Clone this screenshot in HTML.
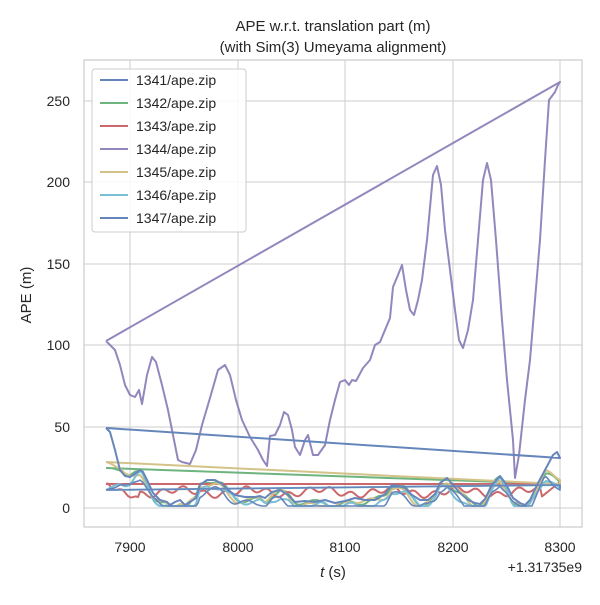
<!DOCTYPE html>
<html><head><meta charset="utf-8"><style>
body{margin:0;background:#fff}
svg{font-family:"Liberation Sans","DejaVu Sans",sans-serif}
</style></head><body>
<svg id="s" width="600" height="600" viewBox="0 0 600 600" xmlns="http://www.w3.org/2000/svg">
<rect width="600" height="600" fill="#fff"/>
<g stroke="#cccccc" stroke-width="1">
<line x1="130" y1="60" x2="130" y2="527"/><line x1="238" y1="60" x2="238" y2="527"/>
<line x1="345" y1="60" x2="345" y2="527"/><line x1="453" y1="60" x2="453" y2="527"/>
<line x1="560" y1="60" x2="560" y2="527"/>
<line x1="84" y1="508" x2="582" y2="508"/><line x1="84" y1="427" x2="582" y2="427"/>
<line x1="84" y1="345" x2="582" y2="345"/><line x1="84" y1="264" x2="582" y2="264"/>
<line x1="84" y1="182" x2="582" y2="182"/><line x1="84" y1="101" x2="582" y2="101"/>
</g>
<rect x="84" y="60" width="498" height="467" fill="none" stroke="#cccccc" stroke-width="1.2"/>
<g id="lines" fill="none" stroke-width="2" stroke-linejoin="round" opacity="0.85"></g>
<g font-size="14" fill="#262626">
<text x="70" y="513" text-anchor="end">0</text>
<text x="70" y="432" text-anchor="end">50</text>
<text x="70" y="350" text-anchor="end">100</text>
<text x="70" y="269" text-anchor="end">150</text>
<text x="70" y="187" text-anchor="end">200</text>
<text x="70" y="106" text-anchor="end">250</text>
<text x="130" y="552" text-anchor="middle">7900</text>
<text x="238" y="552" text-anchor="middle">8000</text>
<text x="345" y="552" text-anchor="middle">8100</text>
<text x="453" y="552" text-anchor="middle">8200</text>
<text x="560" y="552" text-anchor="middle">8300</text>
<text x="582" y="572" text-anchor="end">+1.31735e9</text>
<text x="333" y="577" text-anchor="middle" font-size="15"><tspan font-style="italic">t</tspan> (s)</text>
<text transform="translate(31,295) rotate(-90)" text-anchor="middle" font-size="15">APE (m)</text>
<text x="333" y="31" text-anchor="middle" font-size="15">APE w.r.t. translation part (m)</text>
<text x="333" y="52" text-anchor="middle" font-size="15">(with Sim(3) Umeyama alignment)</text>
</g>
<rect x="92" y="69" width="154" height="163" rx="3" fill="#fff" fill-opacity="0.85" stroke="#cccccc"/>
<g id="leg" font-size="14" fill="#262626"></g>
</svg>
<script>
var C=["#4c72b0","#55a868","#c44e52","#8172b2","#ccb974","#64b5cd","#4c72b0"];
var names=["1341","1342","1343","1344","1345","1346","1347"];
var leg=document.getElementById("leg");
for(var i=0;i<7;i++){var y=80+i*23;
leg.innerHTML+='<line x1="100" y1="'+y+'" x2="128" y2="'+y+'" stroke="'+C[i]+'" stroke-width="2" opacity="0.85"/><text x="136" y="'+(y+5)+'">'+names[i]+'/ape.zip</text>';}
var P=[[106,341],[110,345],[115,350],[120,365],[125,385],[130,395],[135,397],[139,390],[142,404],[147,375],[152,357],[156,362],[162,385],[168,410],[173,435],[178,460],[182,462],[190,464],[196,450],[202,425],[210,398],[218,370],[225,365],[230,375],[236,400],[242,420],[250,437],[258,450],[263,460],[267,466],[270,436],[275,435],[280,425],[284,412],[288,415],[292,430],[295,447],[300,455],[305,440],[308,435],[313,455],[318,455],[325,445],[330,420],[335,400],[340,382],[345,380],[349,385],[352,380],[356,381],[363,368],[370,360],[375,345],[380,342],[385,330],[390,318],[393,287],[398,275],[402,265],[406,290],[410,310],[414,315],[418,300],[422,280],[427,240],[433,175],[437,166],[441,185],[445,230],[450,270],[455,310],[459,340],[463,348],[468,330],[473,300],[478,240],[483,180],[487,163],[491,180],[496,240],[502,320],[507,380],[513,440],[515,478],[519,455],[525,400],[530,360],[535,300],[540,240],[545,160],[549,100],[555,92],[558,85],[560,82]];
var B=[[106,428],[110,432],[115,450],[120,470],[125,476],[130,477],[136,473],[140,470],[143,472],[148,482],[153,493],[160,500],[167,502],[170,505],[175,502],[180,500],[185,505],[190,502],[196,498],[200,485],[207,480],[215,480],[222,484],[228,490],[235,495],[245,497],[255,497],[260,496],[265,498],[272,492],[280,490],[288,495],[295,502],[305,501],[315,502],[325,500],[335,503],[345,501],[355,498],[365,500],[375,500],[385,494],[392,485],[398,486],[405,488],[412,495],[420,500],[428,500],[435,494],[440,483],[447,478],[453,485],[460,493],[468,500],[475,503],[480,504],[485,499],[492,485],[500,476],[506,484],[513,498],[520,503],[525,505],[530,500],[537,485],[545,470],[553,455],[557,452],[560,458]];
function interp(arr,x){for(var k=1;k<arr.length;k++)if(arr[k][0]>=x){var a=arr[k-1],b=arr[k];var t=(x-a[0])/((b[0]-a[0])||1);return a[1]+t*(b[1]-a[1]);}return arr[arr.length-1][1];}
function mk(start,end,off,ph,amp,endy){var pts=[[106,start]];for(var x=108;x<=560;x+=2){var base=Math.max(interp(B,x),470);var y=base+off+amp*Math.sin(x*0.21+ph)+amp*0.6*Math.sin(x*0.07+ph*2);if(x<135)y=start+(x-106)/29*(y-start);if(x>545)y=y+(x-545)/15*(endy-y);pts.push([x,Math.min(y,506)]);}pts.push([560,end]);pts.push([106,start]);return pts;}
function pl(pts,c,w){var s=pts.map(function(p){return p[0].toFixed(1)+","+p[1].toFixed(1)}).join(" ");return '<polyline points="'+s+'" stroke="'+c+'" stroke-width="'+(w||2)+'" fill="none" stroke-linejoin="round"/>';}
var h="";
h+=pl(mk(468,484,2,1.3,3,482),C[1]);
var r=[[106,484]];for(var x=108;x<=560;x+=2){var y=492+3*Math.sin(x*0.3)+3*Math.sin(x*0.09+1);if(x<140)y=484+(x-106)/34*(500-484)+2*Math.sin(x*.4);if(x>540)y=498-(x-540)*0.8;r.push([x,y]);}r.push([560,484]);r.push([106,484]);h+=pl(r,C[2]);
h+=pl(mk(462,484,3,2.1,3,480),C[4]);
h+=pl(mk(490,485,6,0.4,3,488),C[5]);
h+=pl(mk(490,485,8,3.1,3,490),C[6],1.6);
h+=pl(P.concat([[106,341]]),C[3]);
h+=pl(B.concat([[106,428]]),C[0]);
document.getElementById("lines").innerHTML=h;
</script>
</body></html>
